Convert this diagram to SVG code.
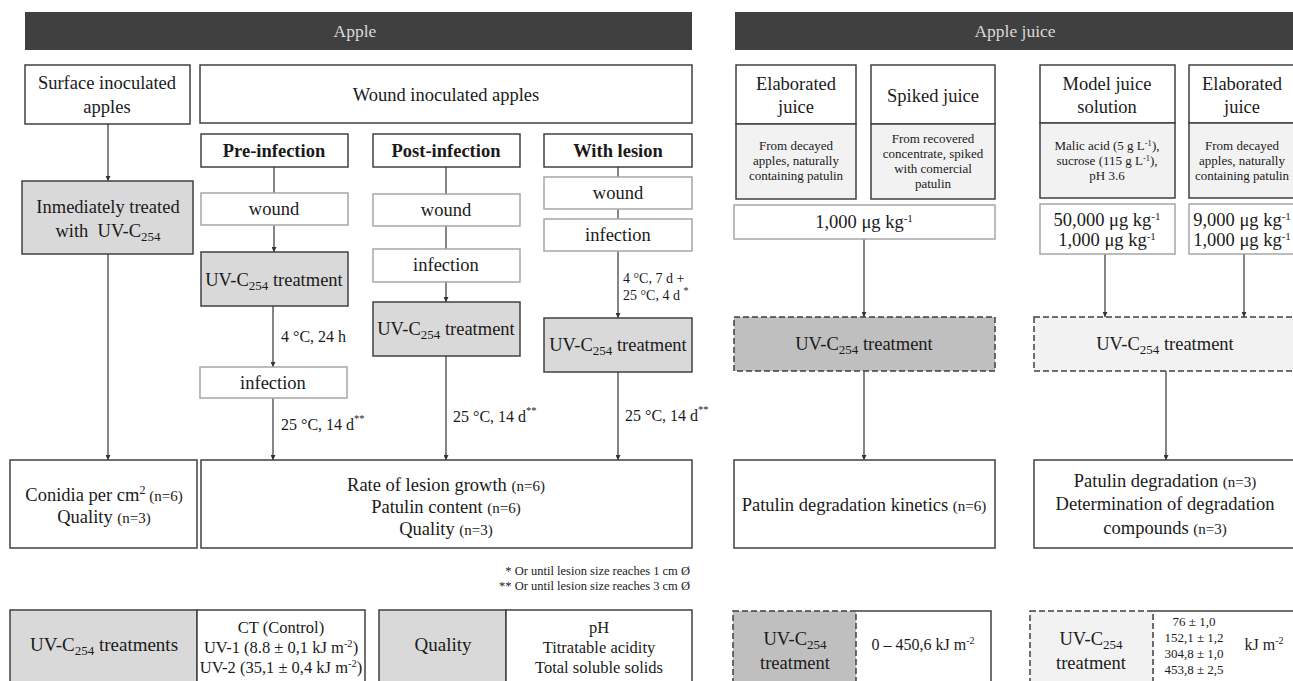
<svg xmlns="http://www.w3.org/2000/svg" width="1293" height="681" viewBox="0 0 1293 681" font-family="'Liberation Serif', 'Times New Roman', 'DejaVu Serif', serif">
<defs>
<marker id="ah" viewBox="0 0 8 8" refX="8" refY="4" markerWidth="5" markerHeight="5" markerUnits="userSpaceOnUse" orient="auto"><path d="M0,0 L8,4 L0,8 z" fill="#333"/></marker>
<style>
text{font-family:'Liberation Serif','Times New Roman','DejaVu Serif',serif;fill:#1a1a1a}
.t{font-size:18.5px;text-anchor:middle}
.b{font-size:18.5px;text-anchor:middle;font-weight:bold}
.s{font-size:13px;text-anchor:middle}
.m{font-size:16.5px;text-anchor:middle}
.l{font-size:16px}
.ht{font-size:17.5px;text-anchor:middle;fill:#dadada}
.hd{fill:#404040}
.bx{fill:#fff;stroke:#404040;stroke-width:1.5}
.lt{fill:#fff;stroke:#a6a6a6;stroke-width:1.5}
.g{fill:#d9d9d9;stroke:#404040;stroke-width:1.5}
.d{fill:#f2f2f2;stroke:#404040;stroke-width:1.5}
.dd{fill:#bfbfbf;stroke:#404040;stroke-width:1.5;stroke-dasharray:6 3}
.dl{fill:#f2f2f2;stroke:#404040;stroke-width:1.5;stroke-dasharray:6 3}
.sl{fill:none;stroke:#404040;stroke-width:1.5}
.c line{stroke:#333;stroke-width:1.2}
.a{marker-end:url(#ah)}
</style>
</defs>
<rect width="1293" height="681" fill="#fff"/>

<g id="hdr-apple"><rect class="hd" x="25" y="12" width="667" height="38"/><text class="ht" x="355" y="37">Apple</text></g>
<g id="hdr-juice"><rect class="hd" x="735" y="12" width="570" height="38"/><text class="ht" x="1015" y="37">Apple juice</text></g>

<g class="c" id="connectors">
<line class="a" x1="108" y1="124" x2="108" y2="181"/>
<line class="a" x1="108" y1="254" x2="108" y2="460"/>
<line x1="274" y1="167" x2="274" y2="193"/>
<line class="a" x1="274" y1="225" x2="274" y2="252"/>
<line class="a" x1="273" y1="306" x2="273" y2="367"/>
<line class="a" x1="273" y1="398" x2="273" y2="460"/>
<line x1="446" y1="167" x2="446" y2="194"/>
<line x1="446" y1="226" x2="446" y2="249"/>
<line class="a" x1="446" y1="282" x2="446" y2="302"/>
<line class="a" x1="446" y1="356" x2="446" y2="460"/>
<line x1="618" y1="167" x2="618" y2="177"/>
<line x1="618" y1="209" x2="618" y2="219"/>
<line class="a" x1="618" y1="251" x2="618" y2="318"/>
<line class="a" x1="618" y1="372" x2="618" y2="460"/>
<line class="a" x1="864" y1="239" x2="864" y2="317"/>
<line class="a" x1="864" y1="371" x2="864" y2="460"/>
<line class="a" x1="1105" y1="254" x2="1105" y2="317"/>
<line class="a" x1="1244" y1="254" x2="1244" y2="317"/>
<line class="a" x1="1166" y1="371" x2="1166" y2="460"/>
</g>

<g id="surface"><rect class="bx" x="25" y="65" width="165" height="59"/><text class="t" x="107" y="89">Surface inoculated</text><text class="t" x="107" y="113">apples</text></g>
<g id="wound-inoc"><rect class="bx" x="200" y="65" width="492" height="58"/><text class="t" x="446" y="101">Wound inoculated apples</text></g>
<g id="pre"><rect class="bx" x="201" y="134" width="147" height="33"/><text class="b" x="274" y="157">Pre-infection</text></g>
<g id="post"><rect class="bx" x="373" y="134" width="147" height="33"/><text class="b" x="446" y="157">Post-infection</text></g>
<g id="lesion"><rect class="bx" x="544" y="134" width="148" height="33"/><text class="b" x="618" y="157">With lesion</text></g>
<g id="immediate"><rect class="g" x="22" y="181" width="171" height="73"/><text class="t" x="108" y="213">Inmediately treated</text><text class="t" x="108" y="237" xml:space="preserve">with  UV-C<tspan font-size="13" dy="4">254</tspan></text></g>

<g id="pre-wound"><rect class="lt" x="201" y="193" width="147" height="32"/><text class="t" x="274" y="215">wound</text></g>
<g id="pre-uv"><rect class="g" x="201" y="252" width="147" height="54"/><text class="t" x="274" y="286">UV-C<tspan font-size="13" dy="4">254</tspan><tspan dy="-4"> treatment</tspan></text></g>
<g id="pre-inf"><rect class="lt" x="200" y="367" width="147" height="31"/><text class="t" x="273" y="389">infection</text></g>
<text class="l" x="281" y="342">4 °C, 24 h</text>
<text class="l" x="281" y="430">25 °C, 14 d<tspan font-size="10.5" dy="-8">**</tspan></text>

<g id="post-wound"><rect class="lt" x="373" y="194" width="147" height="32"/><text class="t" x="446" y="216">wound</text></g>
<g id="post-inf"><rect class="lt" x="373" y="249" width="147" height="33"/><text class="t" x="446" y="271">infection</text></g>
<g id="post-uv"><rect class="g" x="373" y="302" width="147" height="54"/><text class="t" x="446" y="335">UV-C<tspan font-size="13" dy="4">254</tspan><tspan dy="-4"> treatment</tspan></text></g>
<text class="l" x="453" y="422">25 °C, 14 d<tspan font-size="10.5" dy="-8">**</tspan></text>

<g id="les-wound"><rect class="lt" x="544" y="177" width="148" height="32"/><text class="t" x="618" y="199">wound</text></g>
<g id="les-inf"><rect class="lt" x="544" y="219" width="148" height="32"/><text class="t" x="618" y="241">infection</text></g>
<text font-size="14" x="623" y="283">4 °C, 7 d +</text>
<text font-size="14" x="623" y="300">25 °C, 4 d <tspan font-size="10" dy="-6">*</tspan></text>
<g id="les-uv"><rect class="g" x="544" y="318" width="148" height="54"/><text class="t" x="618" y="351">UV-C<tspan font-size="13" dy="4">254</tspan><tspan dy="-4"> treatment</tspan></text></g>
<text class="l" x="625" y="421">25 °C, 14 d<tspan font-size="10.5" dy="-8">**</tspan></text>

<g id="conidia"><rect class="bx" x="10" y="460" width="187" height="88"/><text class="t" x="104" y="501">Conidia per cm<tspan font-size="12" dy="-7">2</tspan><tspan dy="7" font-size="15"> (n=6)</tspan></text><text class="t" x="104" y="523">Quality <tspan font-size="15">(n=3)</tspan></text></g>
<g id="rate"><rect class="bx" x="201" y="460" width="491" height="88"/><text class="t" x="446" y="491">Rate of lesion growth <tspan font-size="15">(n=6)</tspan></text><text class="t" x="446" y="513">Patulin content <tspan font-size="15">(n=6)</tspan></text><text class="t" x="446" y="535">Quality <tspan font-size="15">(n=3)</tspan></text></g>
<text font-size="12.5" x="690" y="575" text-anchor="end">* Or until lesion size reaches 1 cm Ø</text>
<text font-size="12.5" x="690" y="590" text-anchor="end">** Or until lesion size reaches 3 cm Ø</text>

<g id="uv-treatments"><rect class="g" x="10" y="610" width="187" height="80"/><rect class="bx" x="197" y="610" width="168" height="80"/><text class="t" x="104" y="651" style="font-size:19px">UV-C<tspan font-size="13" dy="4">254</tspan><tspan dy="-4"> treatments</tspan></text><text class="m" x="281" y="633">CT (Control)</text><text class="m" x="281" y="653">UV-1 (8.8 ± 0,1 kJ m<tspan font-size="10.5" dy="-6">-2</tspan><tspan dy="6">)</tspan></text><text class="m" x="281" y="673">UV-2 (35,1 ± 0,4 kJ m<tspan font-size="10.5" dy="-6">-2</tspan><tspan dy="6">)</tspan></text></g>
<g id="quality"><rect class="g" x="379" y="610" width="127" height="80"/><rect class="bx" x="506" y="610" width="186" height="80"/><text class="t" x="443" y="651" style="font-size:19px">Quality</text><text class="m" x="599" y="633">pH</text><text class="m" x="599" y="653">Titratable acidity</text><text class="m" x="599" y="673">Total soluble solids</text></g>

<g id="elab1"><rect class="bx" x="736" y="65" width="120" height="59"/><rect class="d" x="736" y="124" width="120" height="75"/><text class="t" x="796" y="90">Elaborated</text><text class="t" x="796" y="113">juice</text><text class="s" x="796" y="150">From decayed</text><text class="s" x="796" y="165">apples, naturally</text><text class="s" x="796" y="180">containing patulin</text></g>
<g id="spiked"><rect class="bx" x="871" y="65" width="124" height="59"/><rect class="d" x="871" y="124" width="124" height="75"/><text class="t" x="933" y="102">Spiked juice</text><text class="s" x="933" y="143">From recovered</text><text class="s" x="933" y="158">concentrate, spiked</text><text class="s" x="933" y="173">with comercial</text><text class="s" x="933" y="188">patulin</text></g>
<g id="conc1"><rect class="lt" x="734" y="205" width="261" height="34"/><text class="t" x="864" y="228">1,000 μg kg<tspan font-size="11" dy="-6">-1</tspan></text></g>
<g id="uv-dark"><rect class="dd" x="734" y="317" width="261" height="54"/><text class="t" x="864" y="350">UV-C<tspan font-size="13" dy="4">254</tspan><tspan dy="-4"> treatment</tspan></text></g>
<g id="kinetics"><rect class="bx" x="734" y="460" width="261" height="88"/><text class="t" x="864" y="511">Patulin degradation kinetics <tspan font-size="15">(n=6)</tspan></text></g>

<g id="model"><rect class="bx" x="1040" y="65" width="135" height="58"/><rect class="d" x="1040" y="123" width="135" height="75"/><text class="t" x="1107" y="90">Model juice</text><text class="t" x="1107" y="113">solution</text><text class="s" x="1107" y="150">Malic acid (5 g L<tspan font-size="8.5" dy="-4">-1</tspan><tspan dy="4">),</tspan></text><text class="s" x="1107" y="165">sucrose (115 g L<tspan font-size="8.5" dy="-4">-1</tspan><tspan dy="4">),</tspan></text><text class="s" x="1107" y="180">pH 3.6</text></g>
<g id="elab2"><rect class="bx" x="1189" y="65" width="107" height="58"/><rect class="d" x="1189" y="123" width="107" height="75"/><text class="t" x="1242" y="90">Elaborated</text><text class="t" x="1242" y="113">juice</text><text class="s" x="1242" y="150">From decayed</text><text class="s" x="1242" y="165">apples, naturally</text><text class="s" x="1242" y="180">containing patulin</text></g>
<g id="conc2"><rect class="lt" x="1040" y="204" width="135" height="50"/><text class="t" x="1107" y="226">50,000 μg kg<tspan font-size="11" dy="-6">-1</tspan></text><text class="t" x="1107" y="246">1,000 μg kg<tspan font-size="11" dy="-6">-1</tspan></text></g>
<g id="conc3"><rect class="lt" x="1189" y="204" width="107" height="50"/><text class="t" x="1242" y="226">9,000 μg kg<tspan font-size="11" dy="-6">-1</tspan></text><text class="t" x="1242" y="246">1,000 μg kg<tspan font-size="11" dy="-6">-1</tspan></text></g>
<g id="uv-light"><rect class="dl" x="1034" y="317" width="264" height="54"/><text class="t" x="1165" y="350">UV-C<tspan font-size="13" dy="4">254</tspan><tspan dy="-4"> treatment</tspan></text></g>
<g id="degradation"><rect class="bx" x="1034" y="460" width="264" height="88"/><text class="t" x="1165" y="487">Patulin degradation <tspan font-size="15">(n=3)</tspan></text><text class="t" x="1165" y="510">Determination of degradation</text><text class="t" x="1165" y="534">compounds <tspan font-size="15">(n=3)</tspan></text></g>

<g id="dose-dark"><path class="sl" d="M856,611 H991 V691 H856"/><rect class="dd" x="733" y="611" width="123" height="80"/><text class="t" x="795" y="645">UV-C<tspan font-size="13" dy="4">254</tspan></text><text class="t" x="795" y="669">treatment</text><text class="t" x="923" y="650" style="font-size:16px">0 – 450,6 kJ m<tspan font-size="10" dy="-6">-2</tspan></text></g>
<g id="dose-light"><path class="sl" d="M1153,611 H1298 V691 H1153"/><rect class="dl" x="1030" y="611" width="123" height="80"/><text class="t" x="1091" y="645">UV-C<tspan font-size="13" dy="4">254</tspan></text><text class="t" x="1091" y="669">treatment</text><text class="s" x="1194" y="626">76 ± 1,0</text><text class="s" x="1194" y="642">152,1 ± 1,2</text><text class="s" x="1194" y="658">304,8 ± 1,0</text><text class="s" x="1194" y="674">453,8 ± 2,5</text><text x="1264" y="650" text-anchor="middle" font-size="16">kJ m<tspan font-size="10" dy="-6">-2</tspan></text></g>
</svg>
